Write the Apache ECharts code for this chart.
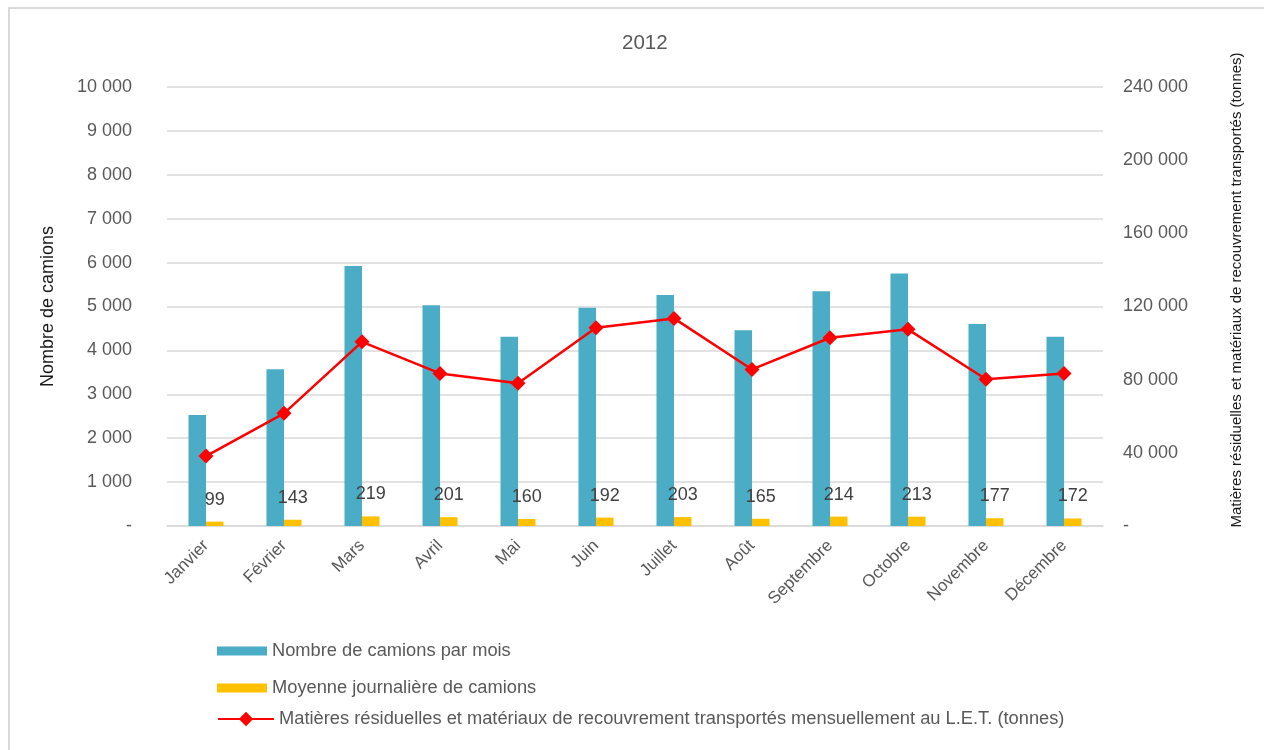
<!DOCTYPE html>
<html>
<head>
<meta charset="utf-8">
<script src="https://cdn.jsdelivr.net/npm/echarts@6/dist/echarts.min.js"></script>
<style>
html,body{margin:0;padding:0;background:#fff;}
#chart{width:1264px;height:750px;}
</style>
</head>
<body>
<div id="chart"></div>
<script>
const categories = ['Janvier','Février','Mars','Avril','Mai','Juin','Juillet','Août','Septembre','Octobre','Novembre','Décembre'];
const camionsParMois = [2530, 3570, 5920, 5030, 4310, 4970, 5260, 4460, 5350, 5750, 4600, 4310];
const moyenneJournaliere = [99, 143, 219, 201, 160, 192, 203, 165, 214, 213, 177, 172];
const tonnesTransportees = [38250, 61600, 100700, 83400, 78000, 108400, 113500, 85600, 102900, 107500, 80200, 83400];

const seriesNames = [
  'Nombre de camions par mois',
  'Moyenne journalière de camions',
  'Matières résiduelles et matériaux de recouvrement transportés mensuellement au L.E.T. (tonnes)'
];
const titleText = '2012';
const leftAxisName = 'Nombre de camions';
const rightAxisName = 'Matières résiduelles et matériaux de recouvrement transportés (tonnes)';

const FONT = '"Liberation Sans", Arial, sans-serif';
function fmt(v){
  if (v === 0) return '-';
  return String(v).replace(/\B(?=(\d{3})+(?!\d))/g, ' ');
}

const chart = echarts.init(document.getElementById('chart'));
const legendText = {color:'#595959', fontSize:18.3, fontFamily:FONT};
chart.setOption({
  animation:false,
  backgroundColor:'#fff',
  title:{text:titleText, left:617, top:28, textStyle:{color:'#595959', fontSize:20.5, fontWeight:'normal', fontFamily:FONT}},
  grid:{left:167, right:161, top:87, bottom:224, containLabel:false},
  legend:[
    {data:[seriesNames[0]], left:212, top:637, itemWidth:50, itemHeight:9, itemGap:6, textStyle:legendText, icon:'rect'},
    {data:[seriesNames[1]], left:212, top:674, itemWidth:50, itemHeight:9, itemGap:6, textStyle:legendText, icon:'rect'},
    {data:[seriesNames[2]], left:212, top:705, itemWidth:56, itemHeight:18, itemGap:6, textStyle:legendText}
  ],
  xAxis:{
    type:'category', data:categories,
    axisLine:{lineStyle:{color:'#d9d9d9', width:1.5}},
    axisTick:{show:false},
    axisLabel:{rotate:45, color:'#595959', fontSize:17, fontFamily:FONT, margin:17, interval:0}
  },
  yAxis:[
    {
      type:'value', min:0, max:10000, interval:1000,
      name:leftAxisName, nameLocation:'middle', nameGap:110,
      nameTextStyle:{color:'#1a1a1a', fontSize:18, fontFamily:FONT},
      axisLine:{show:false}, axisTick:{show:false},
      axisLabel:{formatter:fmt, color:'#595959', fontSize:18, fontFamily:FONT, margin:35},
      splitLine:{lineStyle:{color:'#d9d9d9', width:1.5}}
    },
    {
      type:'value', min:0, max:240000, interval:40000, position:'right',
      axisLine:{show:false}, axisTick:{show:false},
      axisLabel:{formatter:fmt, color:'#595959', fontSize:18, fontFamily:FONT, margin:20},
      splitLine:{show:false}
    }
  ],
  graphic:[
    {type:'polyline', shape:{points:[[9,760],[9,8],[1280,8]]}, style:{stroke:'#d9d9d9', lineWidth:2, fill:null}},
    {type:'text', x:1237, y:290, rotation:Math.PI/2,
     style:{text:rightAxisName, fill:'#1a1a1a', fontSize:15, fontFamily:FONT, align:'center', verticalAlign:'middle'}}
  ],
  series:[
    {name:seriesNames[0], type:'bar', data:camionsParMois, barWidth:17.5, barGap:'0%',
     itemStyle:{color:'#4bacc6'}, yAxisIndex:0},
    {name:seriesNames[1], type:'bar', data:moyenneJournaliere, barWidth:17.5, barGap:'0%',
     itemStyle:{color:'#ffc000'}, yAxisIndex:0,
     label:{show:true, position:'top', distance:13, color:'#404040', fontSize:18, fontFamily:FONT}},
    {name:seriesNames[2], type:'line', data:tonnesTransportees, yAxisIndex:1,
     lineStyle:{color:'#ff0000', width:2.5}, itemStyle:{color:'#ff0000'},
     symbol:'diamond', symbolSize:15, showSymbol:true}
  ]
});
</script>
</body>
</html>
